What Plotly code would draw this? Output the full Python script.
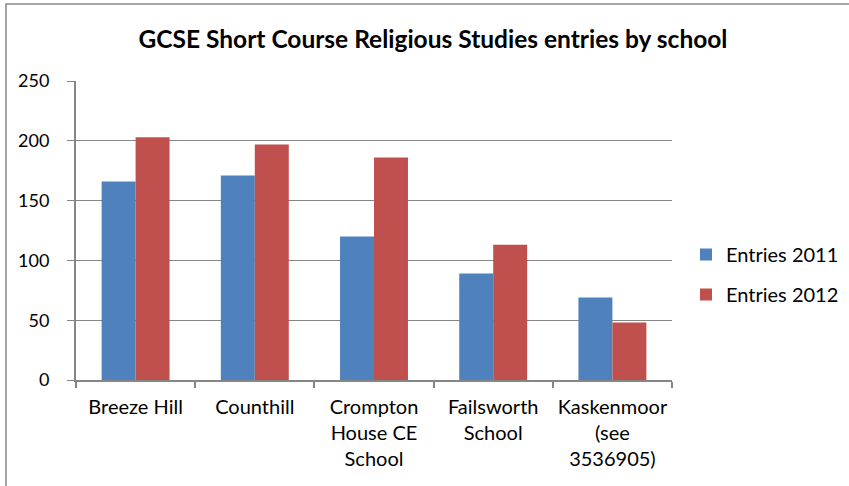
import plotly.graph_objects as go

categories = ["Breeze Hill", "Counthill", "Crompton<br>House CE<br>School",
              "Failsworth<br>School", "Kaskenmoor<br>(see<br>3536905)"]
entries_2011 = [166, 171, 120, 89, 69]
entries_2012 = [203, 197, 186, 113, 48]
y_ticks = [0, 50, 100, 150, 200, 250]

FONT = "Lato"
W, H = 849, 486
L, R, T, B = 76, 177, 81, 106
pw, ph = W - L - R, H - T - B

fig = go.Figure()
fig.add_trace(go.Bar(name="Entries 2011", x=categories, y=entries_2011,
                     legendgroup="a",
                     marker=dict(color="#4F81BD", line=dict(width=0))))
fig.add_trace(go.Bar(name="Entries 2012", x=categories, y=entries_2012,
                     legendgroup="b",
                     marker=dict(color="#C0504D", line=dict(width=0))))

def px_to_paper_x(px):
    return (px - L) / pw

def px_to_paper_y(py):
    return (H - B - py) / ph

fig.update_layout(
    width=W, height=H,
    margin=dict(l=L, r=R, t=T, b=B, autoexpand=False),
    paper_bgcolor="white", plot_bgcolor="white",
    barmode="group", bargap=0.43, bargroupgap=0,
    font=dict(family=FONT, size=16, color="#000000"),
    title=dict(text="<b>GCSE Short Course Religious Studies entries by school</b>",
               x=px_to_paper_x(433), xref="paper", xanchor="center",
               y=1 - 39 / H, yanchor="middle",
               font=dict(family=FONT, size=24.5, color="#000000")),
    legend=dict(x=px_to_paper_x(686), y=px_to_paper_y(235), xref="paper", yref="paper",
                xanchor="left", yanchor="top", itemwidth=30,
                traceorder="grouped", tracegroupgap=11,
                font=dict(family=FONT, size=20, color="#000000"),
                bgcolor="rgba(0,0,0,0)"),
    xaxis=dict(type="category", showline=True, linecolor="#868686", linewidth=2,
               ticks="outside", tickson="boundaries", ticklen=6, tickcolor="#868686",
               tickwidth=2, showgrid=False, ticklabelstandoff=8, tickangle=0,
               automargin=False,
               tickfont=dict(family=FONT, size=20, color="#000000")),
    yaxis=dict(range=[0, 250], tickvals=y_ticks, showline=True, linecolor="#868686",
               linewidth=2, ticks="outside", ticklen=7, tickcolor="#868686",
               showgrid=True, gridcolor="#868686", gridwidth=1.3, zeroline=False,
               ticklabelstandoff=14, automargin=False,
               tickfont=dict(family=FONT, size=18, color="#000000")),
    shapes=[dict(type="rect", xref="paper", yref="paper",
                 x0=px_to_paper_x(6), x1=px_to_paper_x(900),
                 y0=px_to_paper_y(600), y1=px_to_paper_y(4),
                 line=dict(color="#888888", width=1.5), layer="below")],
)

fig.write_html("out.html", config={"displayModeBar": False},
               post_script="document.body.style.margin='0px';")
